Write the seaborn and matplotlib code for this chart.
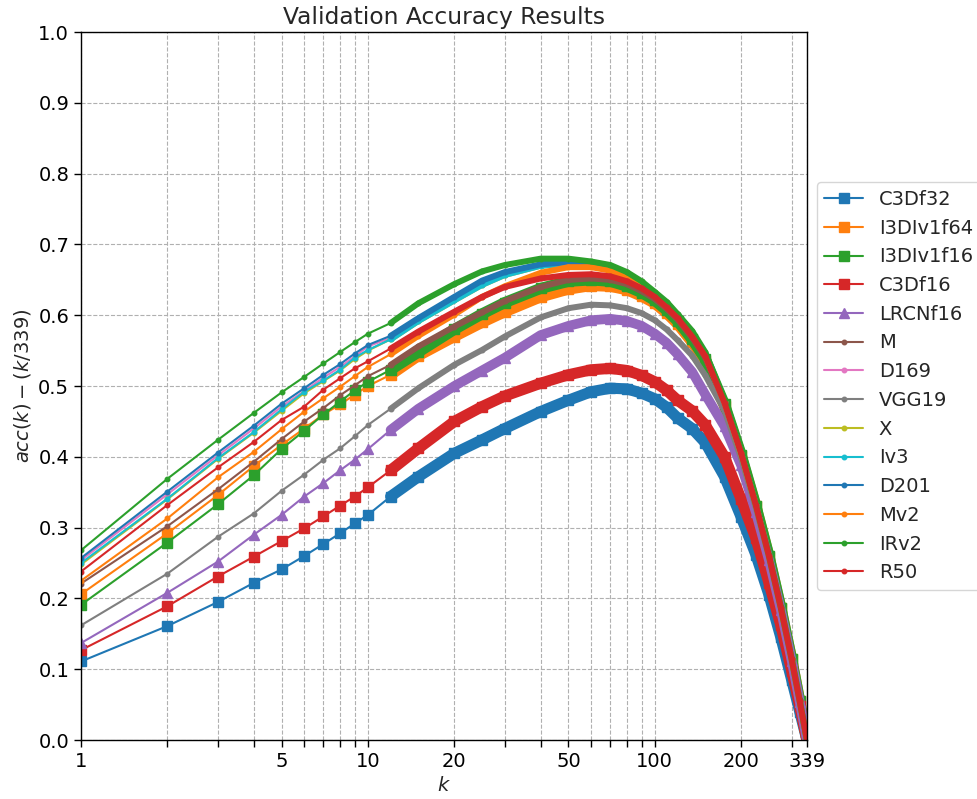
import matplotlib
matplotlib.use("Agg")
import matplotlib.pyplot as plt
import seaborn as sns

# Top-k grid at which the curves were sampled
K = [1, 2, 3, 4, 5, 6, 7, 8, 9, 10,
     12, 15, 20, 25, 30,
     40, 50, 60, 70, 80, 90, 100,
     110, 120, 135, 150, 175, 200, 225, 250, 275, 300, 320, 339]

# acc(k) - k/339 for each model
C3Df32 = [0.111, 0.161, 0.195, 0.222, 0.241, 0.260, 0.277, 0.292, 0.306, 0.318,
          0.344, 0.372, 0.405, 0.424, 0.440,
          0.464, 0.480, 0.492, 0.497, 0.496, 0.490, 0.482,
          0.470, 0.455, 0.440, 0.420, 0.372, 0.315, 0.262, 0.205, 0.145, 0.085, 0.040, 0.0]
I3DIv1f64 = [0.206, 0.292, 0.346, 0.387, 0.417, 0.440, 0.460, 0.474, 0.488, 0.500,
             0.516, 0.543, 0.570, 0.590, 0.605,
             0.626, 0.637, 0.642, 0.641, 0.636, 0.627, 0.617,
             0.603, 0.588, 0.562, 0.535, 0.472, 0.401, 0.330, 0.259, 0.186, 0.114, 0.055, 0.0]
I3DIv1f16 = [0.191, 0.279, 0.333, 0.374, 0.411, 0.437, 0.460, 0.478, 0.494, 0.506,
             0.523, 0.548, 0.580, 0.602, 0.618,
             0.638, 0.648, 0.650, 0.648, 0.641, 0.632, 0.621,
             0.607, 0.592, 0.566, 0.538, 0.474, 0.403, 0.331, 0.260, 0.187, 0.114, 0.055, 0.0]
C3Df16 = [0.127, 0.189, 0.231, 0.259, 0.281, 0.299, 0.316, 0.331, 0.344, 0.357,
          0.381, 0.412, 0.450, 0.471, 0.486,
          0.504, 0.516, 0.523, 0.525, 0.522, 0.515, 0.506,
          0.494, 0.480, 0.465, 0.445, 0.400, 0.340, 0.285, 0.222, 0.162, 0.098, 0.048, 0.0]
LRCNf16 = [0.137, 0.208, 0.252, 0.290, 0.318, 0.344, 0.363, 0.381, 0.396, 0.411,
           0.438, 0.468, 0.500, 0.522, 0.540,
           0.572, 0.585, 0.593, 0.595, 0.592, 0.585, 0.574,
           0.561, 0.545, 0.520, 0.488, 0.443, 0.388, 0.322, 0.254, 0.184, 0.112, 0.054, 0.0]
M = [0.221, 0.302, 0.354, 0.393, 0.425, 0.450, 0.469, 0.487, 0.501, 0.514,
     0.530, 0.556, 0.584, 0.604, 0.620,
     0.640, 0.650, 0.652, 0.650, 0.644, 0.634, 0.623,
     0.609, 0.594, 0.568, 0.540, 0.475, 0.404, 0.331, 0.260, 0.187, 0.114, 0.055, 0.0]
D169 = [0.254, 0.347, 0.402, 0.440, 0.471, 0.493, 0.512, 0.527, 0.542, 0.556,
        0.568, 0.594, 0.624, 0.646, 0.659,
        0.671, 0.674, 0.671, 0.666, 0.656, 0.643, 0.628,
        0.613, 0.598, 0.573, 0.545, 0.477, 0.405, 0.332, 0.260, 0.187, 0.114, 0.055, 0.0]
VGG19 = [0.162, 0.235, 0.287, 0.320, 0.352, 0.375, 0.396, 0.412, 0.429, 0.445,
         0.468, 0.497, 0.530, 0.551, 0.570,
         0.597, 0.610, 0.615, 0.614, 0.610, 0.603, 0.593,
         0.580, 0.565, 0.543, 0.515, 0.465, 0.398, 0.328, 0.258, 0.186, 0.113, 0.055, 0.0]
X = [0.248, 0.340, 0.397, 0.434, 0.465, 0.490, 0.507, 0.522, 0.538, 0.550,
     0.566, 0.592, 0.621, 0.643, 0.657,
     0.670, 0.673, 0.670, 0.665, 0.655, 0.642, 0.627,
     0.612, 0.597, 0.572, 0.544, 0.477, 0.405, 0.332, 0.260, 0.187, 0.114, 0.055, 0.0]
Iv3 = [0.250, 0.341, 0.398, 0.435, 0.467, 0.492, 0.508, 0.523, 0.540, 0.551,
       0.566, 0.592, 0.621, 0.643, 0.657,
       0.670, 0.673, 0.670, 0.665, 0.655, 0.642, 0.627,
       0.612, 0.597, 0.572, 0.544, 0.477, 0.405, 0.332, 0.260, 0.187, 0.114, 0.055, 0.0]
D201 = [0.257, 0.351, 0.406, 0.444, 0.475, 0.497, 0.516, 0.531, 0.546, 0.558,
        0.571, 0.596, 0.626, 0.649, 0.661,
        0.672, 0.675, 0.672, 0.667, 0.657, 0.644, 0.629,
        0.614, 0.599, 0.574, 0.546, 0.478, 0.406, 0.332, 0.260, 0.187, 0.114, 0.055, 0.0]
Mv2 = [0.225, 0.313, 0.371, 0.407, 0.439, 0.464, 0.483, 0.499, 0.514, 0.527,
       0.545, 0.571, 0.601, 0.626, 0.641,
       0.660, 0.668, 0.668, 0.663, 0.654, 0.642, 0.628,
       0.613, 0.598, 0.572, 0.544, 0.477, 0.405, 0.332, 0.260, 0.187, 0.114, 0.055, 0.0]
IRv2 = [0.268, 0.369, 0.424, 0.462, 0.491, 0.513, 0.532, 0.548, 0.562, 0.574,
        0.589, 0.617, 0.644, 0.662, 0.671,
        0.680, 0.680, 0.676, 0.671, 0.661, 0.648, 0.633,
        0.619, 0.602, 0.578, 0.548, 0.480, 0.407, 0.333, 0.261, 0.188, 0.115, 0.056, 0.0]
R50 = [0.238, 0.332, 0.385, 0.421, 0.452, 0.471, 0.495, 0.511, 0.525, 0.535,
       0.553, 0.577, 0.605, 0.626, 0.640,
       0.652, 0.657, 0.658, 0.655, 0.648, 0.638, 0.626,
       0.611, 0.596, 0.570, 0.542, 0.476, 0.405, 0.332, 0.260, 0.187, 0.114, 0.055, 0.0]

names = ["C3Df32", "I3DIv1f64", "I3DIv1f16", "C3Df16", "LRCNf16", "M", "D169",
         "VGG19", "X", "Iv3", "D201", "Mv2", "IRv2", "R50"]
series = [C3Df32, I3DIv1f64, I3DIv1f16, C3Df16, LRCNf16, M, D169,
          VGG19, X, Iv3, D201, Mv2, IRv2, R50]
markers = ["s", "s", "s", "s", "^"] + ["."] * 9

sns.set_style("ticks", {"axes.grid": True, "grid.linestyle": "--",
                        "grid.color": "#b0b0b0", "axes.edgecolor": "black"})
plt.rcParams["font.family"] = ["DejaVu Sans"]
plt.rcParams["font.size"] = 14
plt.rcParams["axes.titlesize"] = 16.8
plt.rcParams["axes.labelsize"] = 14
plt.rcParams["xtick.labelsize"] = 14
plt.rcParams["ytick.labelsize"] = 14

palette = sns.color_palette("tab10", 10)

fig = plt.figure(figsize=(9.77, 7.99), dpi=100)
ax = fig.add_axes([0.0829, 0.0738, 0.743, 0.886])

band_from = K.index(12)
handles = []
for i, (name, ys, mk) in enumerate(zip(names, series, markers)):
    col = palette[i % 10]
    # dense region: consecutive markers merge into a solid band
    band_w = 8.0 if mk == "s" else (7.0 if mk == "^" else 4.3)
    sns.lineplot(x=K[band_from:], y=ys[band_from:], color=col,
                 linewidth=band_w, legend=False, ax=ax,
                 solid_capstyle="round", solid_joinstyle="round")
    sns.lineplot(x=K, y=ys, color=col, marker=mk, markersize=6.5,
                 markeredgecolor=col, markeredgewidth=1.0, linewidth=1.5,
                 label=name, ax=ax)
    handles.append(ax.lines[-1])

ax.set_xscale("log")
ax.set_xlim(1, 339)
ax.set_ylim(0, 1.0)
xt = [1, 2, 3, 4, 5, 6, 7, 8, 9, 10, 20, 30, 40, 50, 60, 70, 80, 90, 100,
      200, 300, 339]
shown = {1, 5, 10, 20, 50, 100, 200, 339}
ax.set_xticks(xt)
ax.set_xticklabels([str(t) if t in shown else "" for t in xt])
ax.xaxis.set_minor_locator(matplotlib.ticker.NullLocator())
ax.set_yticks([i / 10 for i in range(11)])
ax.set_yticklabels([f"{i / 10:.1f}" for i in range(11)])
ax.grid(True, which="major", linestyle="--", color="#b0b0b0", linewidth=0.8)
for s in ax.spines.values():
    s.set_visible(True)
    s.set_color("black")
    s.set_linewidth(1.0)
ax.tick_params(direction="out", length=5, width=1, colors="black")

ax.set_title("Validation Accuracy Results")
ax.set_xlabel("$k$")
ax.set_ylabel("$acc(k) - (k/339)$")

ax.legend(handles=handles, labels=names, loc="center left",
          bbox_to_anchor=(1.0, 0.5), frameon=True, fontsize=14)

fig.savefig("out.png", dpi=100)
